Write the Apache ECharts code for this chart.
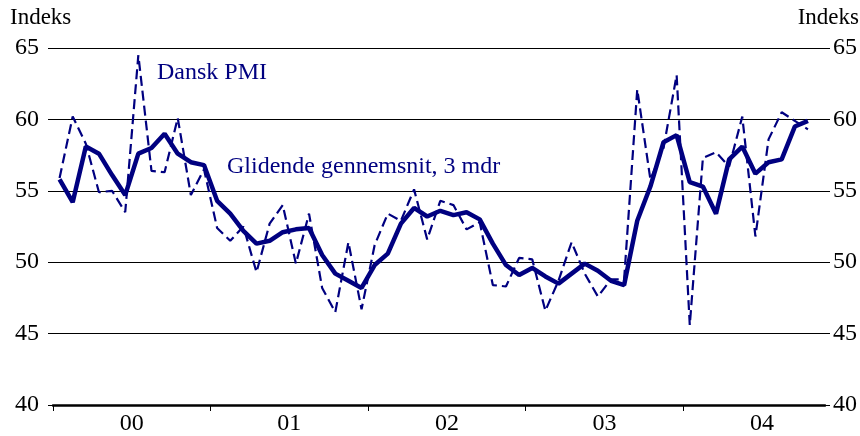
<!DOCTYPE html>
<html>
<head>
<meta charset="utf-8">
<script src="https://cdn.jsdelivr.net/npm/echarts@6/dist/echarts.min.js"></script>
<style>html,body{margin:0;padding:0;background:#fff}#c{width:860px;height:436px}</style>
</head>
<body>
<div id="c"></div>
<script>
// Year tick labels (Jan 2000 .. Oct 2004, monthly data)
var yearLabels = ['00', '01', '02', '03', '04'];
// Dansk PMI (monthly)
var pmi = [55.9, 60.2, 58.3, 54.9, 55.0, 53.5, 64.5, 56.4, 56.3, 60.1, 54.7, 56.5,
           52.4, 51.5, 52.5, 49.3, 52.7, 54.0, 49.9, 53.4, 48.2, 46.5, 51.4, 46.7,
           51.2, 53.4, 52.9, 55.1, 51.6, 54.3, 54.0, 52.3, 52.8, 48.4, 48.3, 50.3,
           50.2, 46.6, 48.7, 51.4, 49.2, 47.6, 48.8, 48.8, 62.1, 55.8, 58.0, 63.1,
           45.6, 57.3, 57.7, 56.7, 60.2, 51.8, 58.6, 60.5, 59.9, 59.3];
// Glidende gennemsnit, 3 mdr
var avg3 = [55.8, 54.2, 58.1, 57.6, 56.1, 54.7, 57.6, 58.0, 59.0, 57.6, 57.0, 56.8,
            54.3, 53.4, 52.2, 51.3, 51.5, 52.1, 52.3, 52.4, 50.5, 49.2, 48.7, 48.2,
            49.8, 50.6, 52.7, 53.8, 53.2, 53.6, 53.3, 53.5, 53.0, 51.3, 49.8, 49.1,
            49.6, 49.0, 48.5, 49.2, 49.9, 49.4, 48.7, 48.4, 52.9, 55.3, 58.4, 58.9,
            55.6, 55.3, 53.4, 57.2, 58.1, 56.2, 57.0, 57.2, 59.5, 59.9];
var yMin = 40, yMax = 65, yStep = 5;

var FONT = '"Liberation Serif", "Times New Roman", serif';
var NAVY = '#000080';

var pmiData = pmi.map(function (v, i) { return [i + 0.5, v]; });
var avgData = avg3.map(function (v, i) { return [i + 0.5, v]; });
var tickVals = yearLabels.map(function (_, k) { return k * 12; });
var labelVals = yearLabels.map(function (_, k) { return k * 12 + 6; });

var chart = echarts.init(document.getElementById('c'), null, {renderer: 'canvas'});
chart.setOption({
  animation: false,
  grid: {left: 53, right: 33, top: 48, bottom: 28, containLabel: false},
  xAxis: {
    type: 'value', min: 0, max: 58.8,
    axisLine: {show: true, lineStyle: {color: '#000', width: 2.5}},
    axisTick: {show: true, customValues: tickVals, length: 6, lineStyle: {color: '#000', width: 1}},
    axisLabel: {
      customValues: labelVals,
      formatter: function (v) { return yearLabels[Math.floor(v / 12)]; },
      fontFamily: FONT, fontSize: 24, color: '#000', margin: 7
    },
    splitLine: {show: false}
  },
  yAxis: [{
    type: 'value', position: 'left', min: yMin, max: yMax, interval: yStep,
    axisLine: {show: false},
    axisTick: {show: true, length: 5, lineStyle: {color: '#000'}},
    axisLabel: {fontFamily: FONT, fontSize: 24, color: '#000', margin: 14},
    splitLine: {show: true, lineStyle: {color: '#000', width: 1}}
  }, {
    type: 'value', position: 'right', min: yMin, max: yMax, interval: yStep,
    axisLine: {show: false},
    axisTick: {show: true, length: 5, lineStyle: {color: '#000'}},
    axisLabel: {fontFamily: FONT, fontSize: 24, color: '#000', margin: 8},
    splitLine: {show: false}
  }],
  series: [{
    name: 'Dansk PMI', type: 'line', data: pmiData, yAxisIndex: 0,
    symbol: 'none', lineStyle: {color: NAVY, width: 2.2, type: [10, 5]}, z: 2
  }, {
    name: 'Glidende gennemsnit, 3 mdr', type: 'line', data: avgData, yAxisIndex: 0,
    symbol: 'none', lineStyle: {color: NAVY, width: 4.5}, z: 3
  }],
  graphic: [
    {type: 'text', left: 10, top: 6, style: {text: 'Indeks', font: '23px ' + FONT, fill: '#000'}},
    {type: 'text', right: 1, top: 6, style: {text: 'Indeks', font: '23px ' + FONT, fill: '#000'}},
    {type: 'text', left: 157, top: 61, style: {text: 'Dansk PMI', font: '24px ' + FONT, fill: NAVY}},
    {type: 'text', left: 227, top: 155, style: {text: 'Glidende gennemsnit, 3 mdr', font: '24px ' + FONT, fill: NAVY}}
  ]
});
</script>
</body>
</html>
